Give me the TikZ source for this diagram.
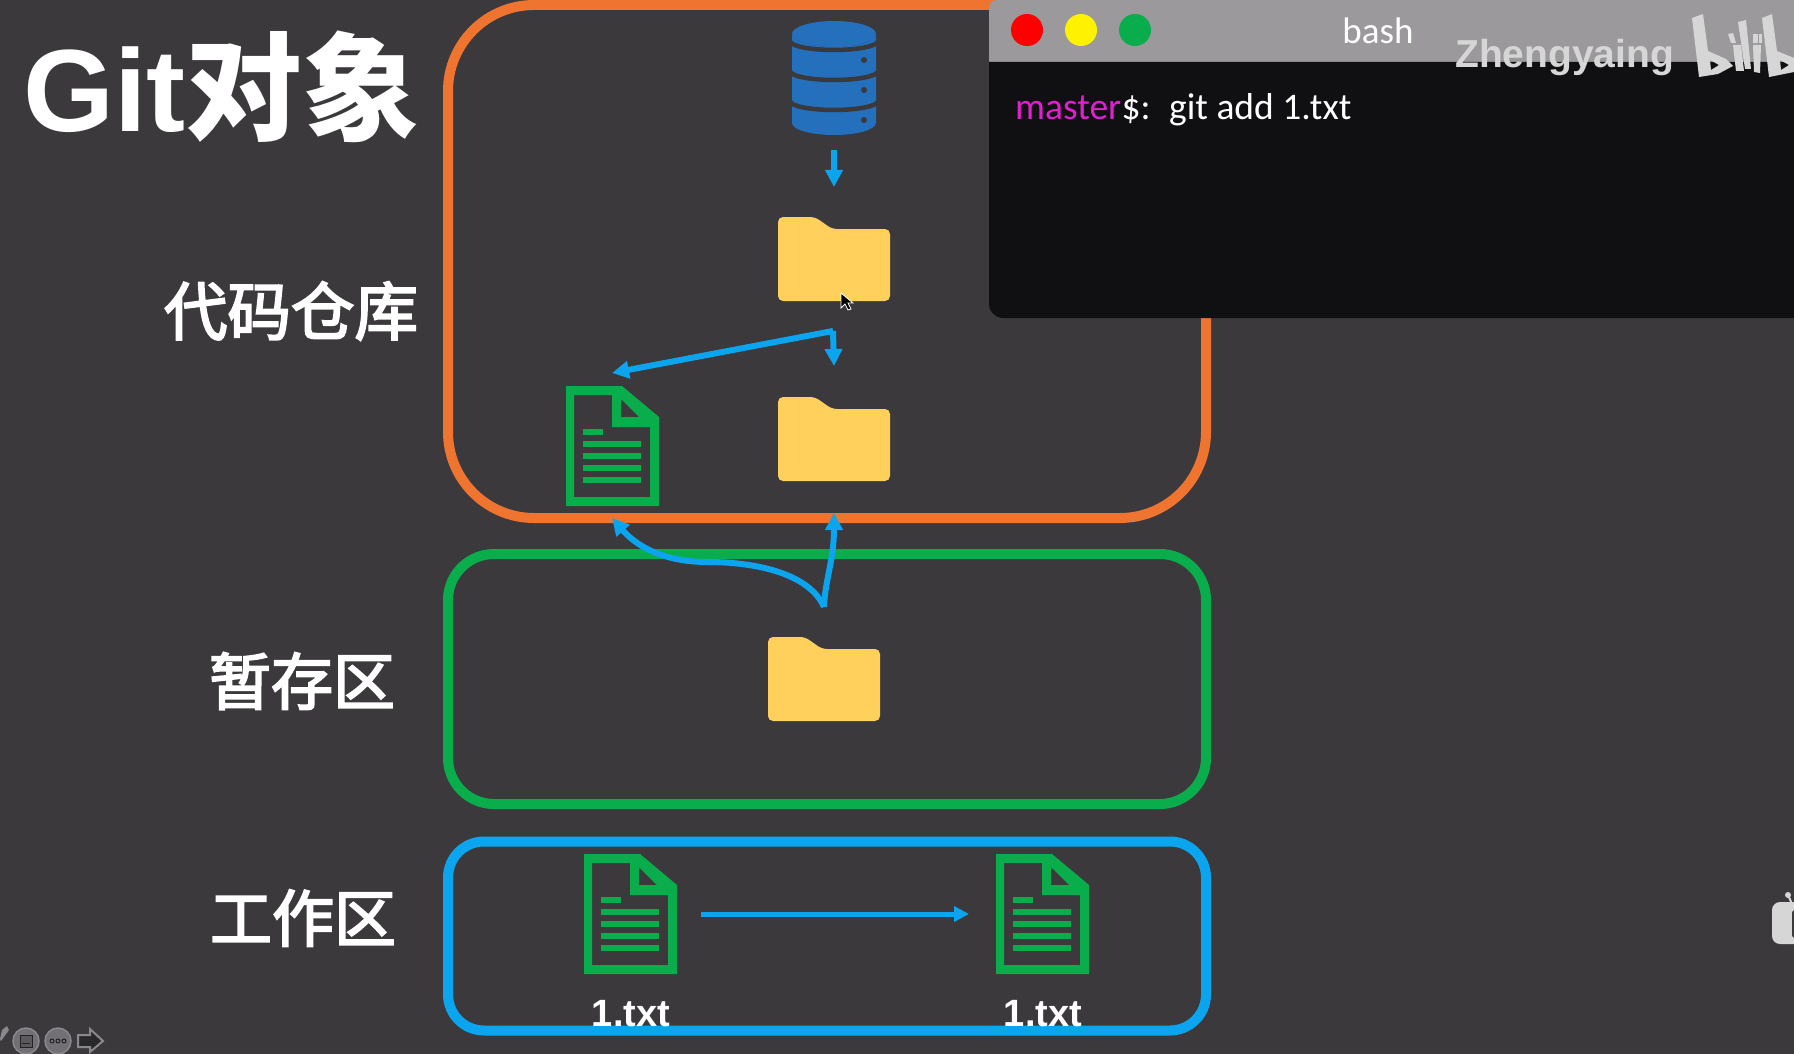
\documentclass[tikz,border=0pt]{standalone}
\usepackage{fontspec}
\setmainfont{Liberation Sans}
\newfontfamily\cjk{Noto Sans CJK SC}
\newfontfamily\cjkmid[FakeBold=3]{Noto Sans CJK SC}
\newfontfamily\termfont{Carlito}
\usetikzlibrary{arrows.meta}
\definecolor{slidebg}{HTML}{3B393C}
\definecolor{repoorange}{HTML}{EE7430}
\definecolor{stagegreen}{HTML}{0AAD4B}
\definecolor{workblue}{HTML}{0AA5EE}
\definecolor{dbblue}{HTML}{2470BC}
\definecolor{foldery}{HTML}{FFD05C}
\definecolor{termbar}{HTML}{9B999C}
\definecolor{termbody}{HTML}{101012}
\definecolor{masterpink}{HTML}{E020D0}
\definecolor{markgray}{HTML}{D6D6D6}
\definecolor{btngray}{HTML}{8A888C}
\tikzset{
  areabox/.style = {draw, line width=10pt, inner sep=0pt, outer sep=0pt},
  arealabel/.style = {text=white, inner sep=0pt, font=\cjkmid\fontsize{62}{62}\selectfont},
  filename/.style = {text=white, inner sep=0pt, font=\bfseries\fontsize{38}{38}\selectfont},
  flow/.style = {draw=workblue, line width=6pt, -{Triangle[width=17pt,length=17pt]}},
  termtext/.style = {inner sep=0pt, anchor=base west, font=\termfont\fontsize{37.5}{38}\selectfont},
  docicon/.pic = {
    \fill[stagegreen, even odd rule] (0,0) -- (56,0) -- (93,31) -- (93,120) -- (0,120) -- cycle
      (8,9) -- (46,9) -- (46,41) -- (84,41) -- (84,111) -- (8,111) -- cycle
      (55,13) -- (73,31) -- (55,31) -- cycle;
    \foreach \y in {58,70,82,94}
      \draw[stagegreen, line width=5.5pt] (17,\y) -- (75,\y);
    \draw[stagegreen, line width=5.5pt] (17,46) -- (37,46);
  },
  foldericon/.pic = {
    \fill[foldery, rounded corners=5pt] (0,0) -- (37,0) -- (54,12) -- (112,12) -- (112,84) -- (0,84) -- cycle;
  }
}
\begin{document}
\begin{tikzpicture}[x=1pt, y=-1pt]
\useasboundingbox (0,0) rectangle (1794,1054);
\fill[slidebg] (0,0) rectangle (1794,1054);

% the three areas
\node[areabox, draw=repoorange, rounded corners=86pt, minimum width=758pt, minimum height=513pt] (repo) at (827,261.5) {};
\node[areabox, draw=stagegreen, rounded corners=46pt, minimum width=758pt, minimum height=250pt] (stage) at (827,679) {};
\node[areabox, draw=workblue, rounded corners=36pt, minimum width=758pt, minimum height=189pt] (work) at (827,936) {};

\node[text=white, inner sep=0pt, anchor=base west, font=\bfseries\fontsize{117}{117}\selectfont] (title) at (23,132) {Git{\cjk 对象}};
\node[arealabel, font=\cjkmid\fontsize{63.5}{64}\selectfont] (repolabel) at (291,311) {代码仓库};
\node[arealabel] (stagelabel) at (302,681) {暂存区};
\node[arealabel] (worklabel) at (303,918) {工作区};

% database
\fill[dbblue] (792,34) -- (792,123) arc[start angle=180, end angle=360, x radius=42pt, y radius=12pt] -- (876,34) arc[start angle=0, end angle=-180, x radius=42pt, y radius=13pt] -- cycle;
\fill[dbblue] (834,34) ellipse[x radius=42pt, y radius=13pt];
\foreach \y in {41,71,101} {
  \draw[slidebg, line width=4.5pt] (790,\y) arc[start angle=180, end angle=360, x radius=44pt, y radius=9pt];
  \fill[slidebg] (864,\y+19) circle[radius=3pt];
}
\coordinate (dbout) at (834,150);
\coordinate (foldertop) at (834,187);

% folders and files
\pic (treea) at (778,217) {foldericon};
\pic (treeb) at (778,397) {foldericon};
\pic (index) at (768,637) {foldericon};
\pic (blob) at (566,386) {docicon};
\pic (filea) at (584,854) {docicon};
\pic (fileb) at (996,854) {docicon};
\node[filename] (namea) at (631,1014) {1.txt};
\node[filename] (nameb) at (1043,1014) {1.txt};

% connectors
\coordinate (treefork) at (833,331);
\coordinate (treetip) at (834,366);
\coordinate (blobtip) at (612,373);
\coordinate (indexfork) at (824,607);
\coordinate (bloblow) at (612,518);
\coordinate (treelow) at (834,513);
\coordinate (workout) at (701,914);
\coordinate (workin) at (969,914);
\draw[flow] (dbout) -- (foldertop);
\draw[flow] (treefork) -- (treetip);
\draw[flow] (treefork) -- (blobtip);
\draw[flow] (indexfork) .. controls (810,575) and (760,562) .. (707,562) .. controls (670,562) and (640,550) .. (bloblow);
\draw[flow] (indexfork) .. controls (825,580) and (834,560) .. (treelow);
\draw[draw=workblue, line width=5pt, -{Triangle[width=15pt,length=15pt]}] (workout) -- (workin);

% mouse pointer
\fill[black, draw=white, line width=.8pt] (841,293) -- (841,308) -- (845,304) -- (848,310) -- (851,309) -- (848,303) -- (853,303) -- cycle;

% terminal
\fill[termbar] (989,62) [rounded corners=8pt] -- (989,0) [sharp corners] -- (1794,0) -- (1794,62) -- cycle;
\fill[termbody] (989,62) [rounded corners=14pt] -- (989,318) [sharp corners] -- (1794,318) -- (1794,62) -- cycle;
\node[circle, fill=red, inner sep=0pt, minimum size=32pt] (closebtn) at (1027,30) {};
\node[circle, fill=yellow, inner sep=0pt, minimum size=32pt] (minbtn) at (1081,30) {};
\node[circle, fill=stagegreen, inner sep=0pt, minimum size=32pt] (maxbtn) at (1135,30) {};
\node[text=white, inner sep=0pt, font=\termfont\fontsize{37}{37}\selectfont] (bash) at (1378,31) {bash};
\node[termtext, text=masterpink] (prompt) at (1015,120) {master};
\node[termtext, text=white, anchor=base west] (dollar) at (prompt.base east) {\$:};
\node[termtext, text=white] (cmd) at (1169,120) {git add 1.txt};

% watermark
\node[text=markgray, inner sep=0pt, anchor=base west, font=\bfseries\fontsize{39}{39}\selectfont] (mark) at (1455,68) {Zhengyaing};
\begin{scope}[markgray]
\fill[even odd rule] (1692,18) -- (1703,14) -- (1708,51) -- (1726,59) -- (1733,66) -- (1718,74) -- (1699,77) -- cycle
  (1710,60) -- (1719,65) -- (1711,70) -- cycle;
\fill (1728,34) -- (1733,33) -- (1736,43) -- (1731,43) -- cycle;
\fill (1733,45) -- (1741,45) -- (1744,71) -- (1736,71) -- cycle;
\fill (1738,22) -- (1746,20) -- (1751,69) -- (1745,69) -- cycle;
\fill (1753,34) -- (1758,34) -- (1758,43) -- (1753,43) -- cycle;
\fill (1753,45) -- (1761,45) -- (1760,73) -- (1754,72) -- cycle;
\fill (1759,34) -- (1762,34) -- (1762,43) -- (1759,43) -- cycle;
\fill[even odd rule] (1762,18) -- (1772,14) -- (1777,51) -- (1794,58) -- (1794,72) -- (1769,77) -- cycle
  (1780,60) -- (1789,65) -- (1781,70) -- cycle;
\end{scope}

% tv icon at the edge
\fill[markgray, rounded corners=8pt] (1794,902) -- (1772,902) -- (1772,944) -- (1794,944);
\fill[markgray] (1788,895) circle[radius=3pt];
\draw[markgray, line width=2pt] (1788,895) -- (1792,904);
\fill[slidebg, rounded corners=3pt] (1792,910) rectangle (1800,938);

% slide controls
\fill[btngray] (2,1030) -- (7,1026) -- (9,1030) -- (1,1041) -- (0,1039) -- cycle;
\draw[btngray, line width=1.5pt, fill=btngray!70!slidebg] (26,1041) circle[radius=13pt];
\draw[slidebg!60!black, line width=1pt, fill=btngray!40!slidebg] (20,1035) rectangle (32,1047);
\draw[slidebg!60!black, line width=1pt] (22,1043) -- (30,1043);
\draw[btngray, line width=1.5pt, fill=btngray!70!slidebg] (58,1041) circle[radius=13pt];
\foreach \x in {52,58,64}
  \draw[slidebg!60!black, line width=1pt] (\x,1041) circle[radius=2pt];
\draw[btngray, line width=2pt, fill=slidebg!70!black] (78,1035) -- (90,1035) -- (90,1029) -- (103,1041) -- (90,1052) -- (90,1047) -- (78,1047) -- cycle;
\end{tikzpicture}
\end{document}
